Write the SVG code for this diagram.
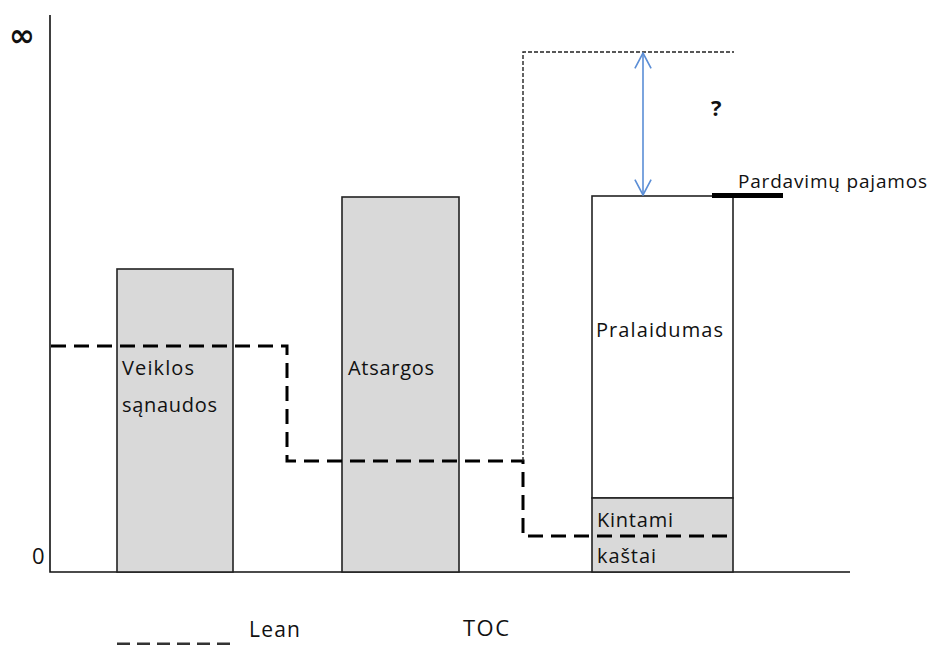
<svg xmlns="http://www.w3.org/2000/svg" width="930" height="645" viewBox="0 0 930 645">
  <style>
    .lbl { font-family: "Open Sans", "Liberation Sans", sans-serif; font-size: 20px; fill: #111; }
    .bar { fill: #d9d9d9; stroke: #222; stroke-width: 1.6; }
    .barw { fill: #ffffff; stroke: #222; stroke-width: 1.6; }
    .axis { stroke: #111; stroke-width: 1.6; fill: none; }
    .lean { stroke: #000; stroke-width: 3; stroke-dasharray: 15 8; fill: none; }
    .toc { stroke: #222; stroke-width: 1.4; stroke-dasharray: 4 2; fill: none; }
    .gap { stroke: #5b8ed6; stroke-width: 1.6; fill: none; }
  </style>
  <defs>
    <marker id="chev" viewBox="0 0 20 20" refX="19" refY="10" markerWidth="18" markerHeight="18" markerUnits="userSpaceOnUse" orient="auto-start-reverse">
      <path d="M2 1 L19 10 L2 19" fill="none" stroke="#5b8ed6" stroke-width="1.8"/>
    </marker>
  </defs>
  <rect width="930" height="645" fill="#ffffff"/>

  <!-- axes -->
  <g id="axes">
    <path class="axis" d="M50 15 V572 H850"/>
    <text x="9" y="46" font-family="'DejaVu Sans', sans-serif" font-size="31" font-weight="bold" fill="#111">∞</text>
    <text class="lbl" x="32" y="564" style="font-size:22px">0</text>
  </g>

  <!-- bars -->
  <g id="veiklos-sanaudos">
    <rect class="bar" x="117" y="269" width="116" height="303"/>
    <text class="lbl" x="122" y="375" textLength="72" lengthAdjust="spacing">Veiklos</text>
    <text class="lbl" x="122" y="412" textLength="95" lengthAdjust="spacing">sąnaudos</text>
  </g>
  <g id="atsargos">
    <rect class="bar" x="342" y="197" width="117" height="375"/>
    <text class="lbl" x="348" y="375" textLength="86" lengthAdjust="spacing">Atsargos</text>
  </g>
  <g id="pralaidumas">
    <rect class="barw" x="592" y="196" width="141" height="302"/>
    <text class="lbl" x="596" y="337" textLength="127" lengthAdjust="spacing">Pralaidumas</text>
  </g>
  <g id="kintami-kastai">
    <rect class="bar" x="592" y="498" width="141" height="74"/>
    <text class="lbl" x="597" y="527" textLength="76" lengthAdjust="spacing">Kintami</text>
    <text class="lbl" x="597" y="563" textLength="59" lengthAdjust="spacing">kaštai</text>
  </g>

  <!-- sales level marker -->
  <g id="pardavimu-pajamos">
    <line x1="712" y1="195.5" x2="783" y2="195.5" stroke="#000" stroke-width="5"/>
    <text class="lbl" x="738" y="188" style="font-size:19px" textLength="189" lengthAdjust="spacing">Pardavimų pajamos</text>
  </g>

  <g id="question">
    <text x="711" y="116" font-family="'Open Sans', 'Liberation Sans', sans-serif" font-size="22" font-weight="bold" fill="#111">?</text>
  </g>

  <!-- connectors -->
  <g id="connectors">
    <path class="lean" d="M51 346 H287 V461 H523 V536 H733"/>
    <path class="toc" d="M523 461 V52 H734"/>
    <line class="gap" x1="643" y1="53" x2="643" y2="195" marker-start="url(#chev)" marker-end="url(#chev)"/>
  </g>

  <!-- legend -->
  <g id="legend">
    <line x1="117" y1="644" x2="233" y2="644" stroke="#333" stroke-width="3" stroke-dasharray="13 7"/>
    <text class="lbl" x="249" y="637" style="font-size:21px" textLength="51" lengthAdjust="spacing">Lean</text>
    <text class="lbl" x="463" y="636" style="font-size:22px" textLength="46" lengthAdjust="spacing">TOC</text>
  </g>
</svg>
